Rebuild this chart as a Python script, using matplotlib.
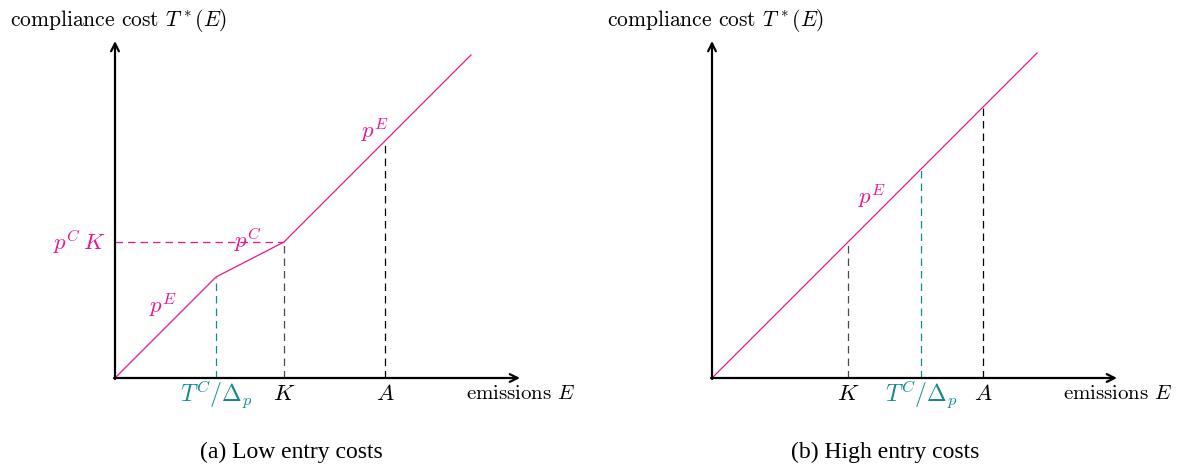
import numpy as np
import matplotlib.pyplot as plt

plt.rcParams['mathtext.fontset'] = 'cm'
plt.rcParams['font.family'] = ['cmr10', 'DejaVu Serif']
plt.rcParams['axes.formatter.use_mathtext'] = True

# data (abstract units, slope 1 = p^E)
left_E = [0.0, 1.01, 1.69, 3.56]
left_T = [0.0, 1.01, 1.36, 3.23]
left_marks = {'tc': 1.01, 'K': 1.69, 'A': 2.70}
left_pcK = 1.36

right_E = [0.0, 3.25]
right_T = [0.0, 3.25]
right_marks = {'K': 1.36, 'tc': 2.09, 'A': 2.71}

pink = '#E8178C'
teal = '#138A8A'
grey = '#4a4a4a'
mfs = 16.5   # math label size

W, H = 1179, 465
fig = plt.figure(figsize=(W / 100, H / 100), dpi=100)


def make_axes(x0):
    ax = fig.add_axes([x0 / W, 87 / H, 410 / W, 340 / H])
    ax.set_xlim(0, 4.1)
    ax.set_ylim(0, 3.4)
    ax.axis('off')
    arr = dict(arrowstyle='->', lw=1.6, color='black', mutation_scale=14,
               shrinkA=0, shrinkB=0)
    ax.annotate('', xy=(4.05, 0), xytext=(-0.01, 0), arrowprops=arr)
    ax.annotate('', xy=(0, 3.37), xytext=(0, -0.01), arrowprops=arr)
    ax.text(-1.05, 3.57, r'compliance cost $T^*(E)$', fontsize=15.5,
            ha='left', va='center', clip_on=False)
    ax.text(3.51, -0.16, r'emissions $E$', fontsize=15, ha='left', va='center')
    return ax


def interp(E, xs, ys):
    return np.interp(E, xs, ys)


# panel (a)
ax = make_axes(115)
ax.plot(left_E, left_T, color=pink, lw=0.9)
ax.plot([0, left_marks['K']], [left_pcK, left_pcK], color=pink, lw=0.9,
        ls=(0, (6, 4)))
for key, col in [('tc', teal), ('K', grey), ('A', 'black')]:
    x = left_marks[key]
    ax.plot([x, x], [0, interp(x, left_E, left_T)], color=col, lw=0.9,
            ls=(0, (6, 4)))
ax.text(left_marks['tc'], -0.17, r'$T^C/\Delta_p$', color=teal, fontsize=17,
        ha='center', va='center')
ax.text(left_marks['K'], -0.16, r'$K$', fontsize=mfs, ha='center', va='center')
ax.text(left_marks['A'], -0.16, r'$A$', fontsize=mfs, ha='center', va='center')
ax.text(-0.1, left_pcK, r'$p^C\,K$', color=pink, fontsize=mfs, ha='right',
        va='center')
ax.text(0.48, 0.72, r'$p^E$', color=pink, fontsize=mfs, ha='center', va='center')
ax.text(1.33, 1.38, r'$p^C$', color=pink, fontsize=mfs, ha='center', va='center')
ax.text(2.60, 2.47, r'$p^E$', color=pink, fontsize=mfs, ha='center', va='center')
fig.text(291 / W, 1 - 452 / H, '(a) Low entry costs', fontsize=17,
         family='Liberation Serif', ha='center', va='center')

# panel (b)
ax = make_axes(712)
ax.plot(right_E, right_T, color=pink, lw=0.9)
for key, col in [('K', grey), ('tc', teal), ('A', 'black')]:
    x = right_marks[key]
    ax.plot([x, x], [0, interp(x, right_E, right_T)], color=col, lw=0.9,
            ls=(0, (6, 4)))
ax.text(right_marks['K'], -0.16, r'$K$', fontsize=mfs, ha='center', va='center')
ax.text(right_marks['tc'], -0.17, r'$T^C/\Delta_p$', color=teal, fontsize=17,
        ha='center', va='center')
ax.text(right_marks['A'], -0.16, r'$A$', fontsize=mfs, ha='center', va='center')
ax.text(1.60, 1.81, r'$p^E$', color=pink, fontsize=mfs, ha='center', va='center')
fig.text(885 / W, 1 - 452 / H, '(b) High entry costs', fontsize=17,
         family='Liberation Serif', ha='center', va='center')

fig.savefig('out.png', dpi=100)
